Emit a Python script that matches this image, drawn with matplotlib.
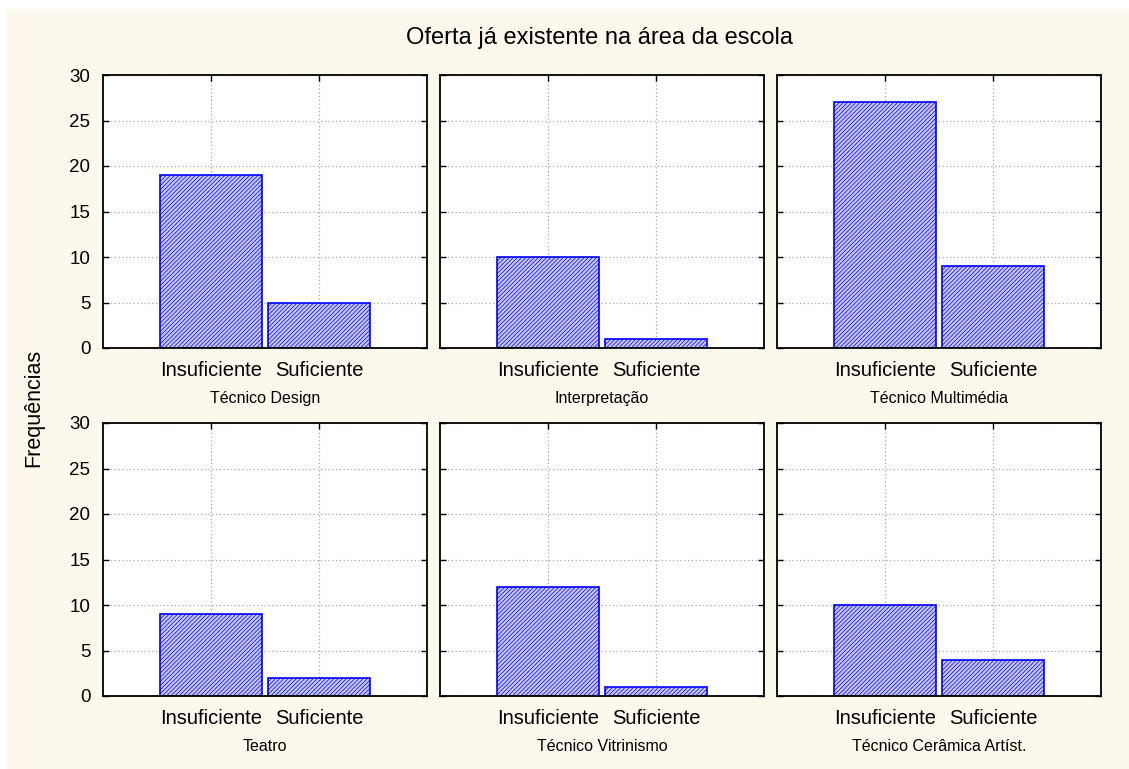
import numpy as np
import matplotlib.pyplot as plt
from matplotlib.patches import Rectangle

plt.rcParams['font.family'] = ['Liberation Sans', 'DejaVu Sans']
plt.rcParams['hatch.linewidth'] = 0.5
plt.rcParams['hatch.color'] = '#aeaef0'

# data
categories = ['Insuficiente', 'Suficiente']
panel_titles = ['Técnico Design', 'Interpretação', 'Técnico Multimédia',
                'Teatro', 'Técnico Vitrinismo', 'Técnico Cerâmica Artíst.']
design = [19, 5]
interpretacao = [10, 1]
multimedia = [27, 9]
teatro = [9, 2]
vitrinismo = [12, 1]
ceramica = [10, 4]
values = [design, interpretacao, multimedia, teatro, vitrinismo, ceramica]

W, H = 1129, 769
fig = plt.figure(figsize=(W / 100, H / 100), dpi=100, facecolor='white')
# cream panel, white strip only at left and top
fig.patches.append(Rectangle((7 / W, 0), 1 - 7 / W, 1 - 9 / H,
                             transform=fig.transFigure, facecolor='#fdf8ec',
                             edgecolor='none', zorder=-10))

lefts = [103, 440, 777]
tops = [75, 423]
aw, ah = 324, 273

for i, (vals, name) in enumerate(zip(values, panel_titles)):
    r, c = divmod(i, 3)
    ax = fig.add_axes([lefts[c] / W, 1 - (tops[r] + ah) / H, aw / W, ah / H])
    ax.set_facecolor('white')
    x = np.arange(len(categories))
    ax.bar(x, vals, width=0.95, facecolor='#c6c6f8', edgecolor='#0000ff',
           linewidth=1.2, hatch='////////', zorder=3)
    ax.set_xlim(-1, 2)
    ax.set_ylim(0, 30)
    ax.set_xticks(x)
    ax.set_xticklabels(categories, fontsize=14.5)
    ax.set_yticks(range(0, 31, 5))
    ax.tick_params(direction='in', length=4, width=1, top=True, right=True)
    ax.tick_params(axis='x', pad=9)
    ax.tick_params(axis='y', pad=9, labelsize=13.5)
    if c != 0:
        ax.set_yticklabels([])
    ax.grid(True, linestyle=(0, (1, 2)), color='#a8a8a8', linewidth=0.9, zorder=0)
    for s in ax.spines.values():
        s.set_linewidth(1.3)
        s.set_zorder(4)
    ax.set_xlabel(name, fontsize=11.5, labelpad=8,
                  family=['Liberation Sans Narrow', 'Liberation Sans'])

fig.text(599 / W, 1 - 38 / H, 'Oferta já existente na área da escola',
         ha='center', va='center', fontsize=17)
fig.text(34 / W, 1 - 408 / H, 'Frequências', ha='center', va='center',
         rotation=90, fontsize=15.5)

fig.savefig('out.png', dpi=100)
